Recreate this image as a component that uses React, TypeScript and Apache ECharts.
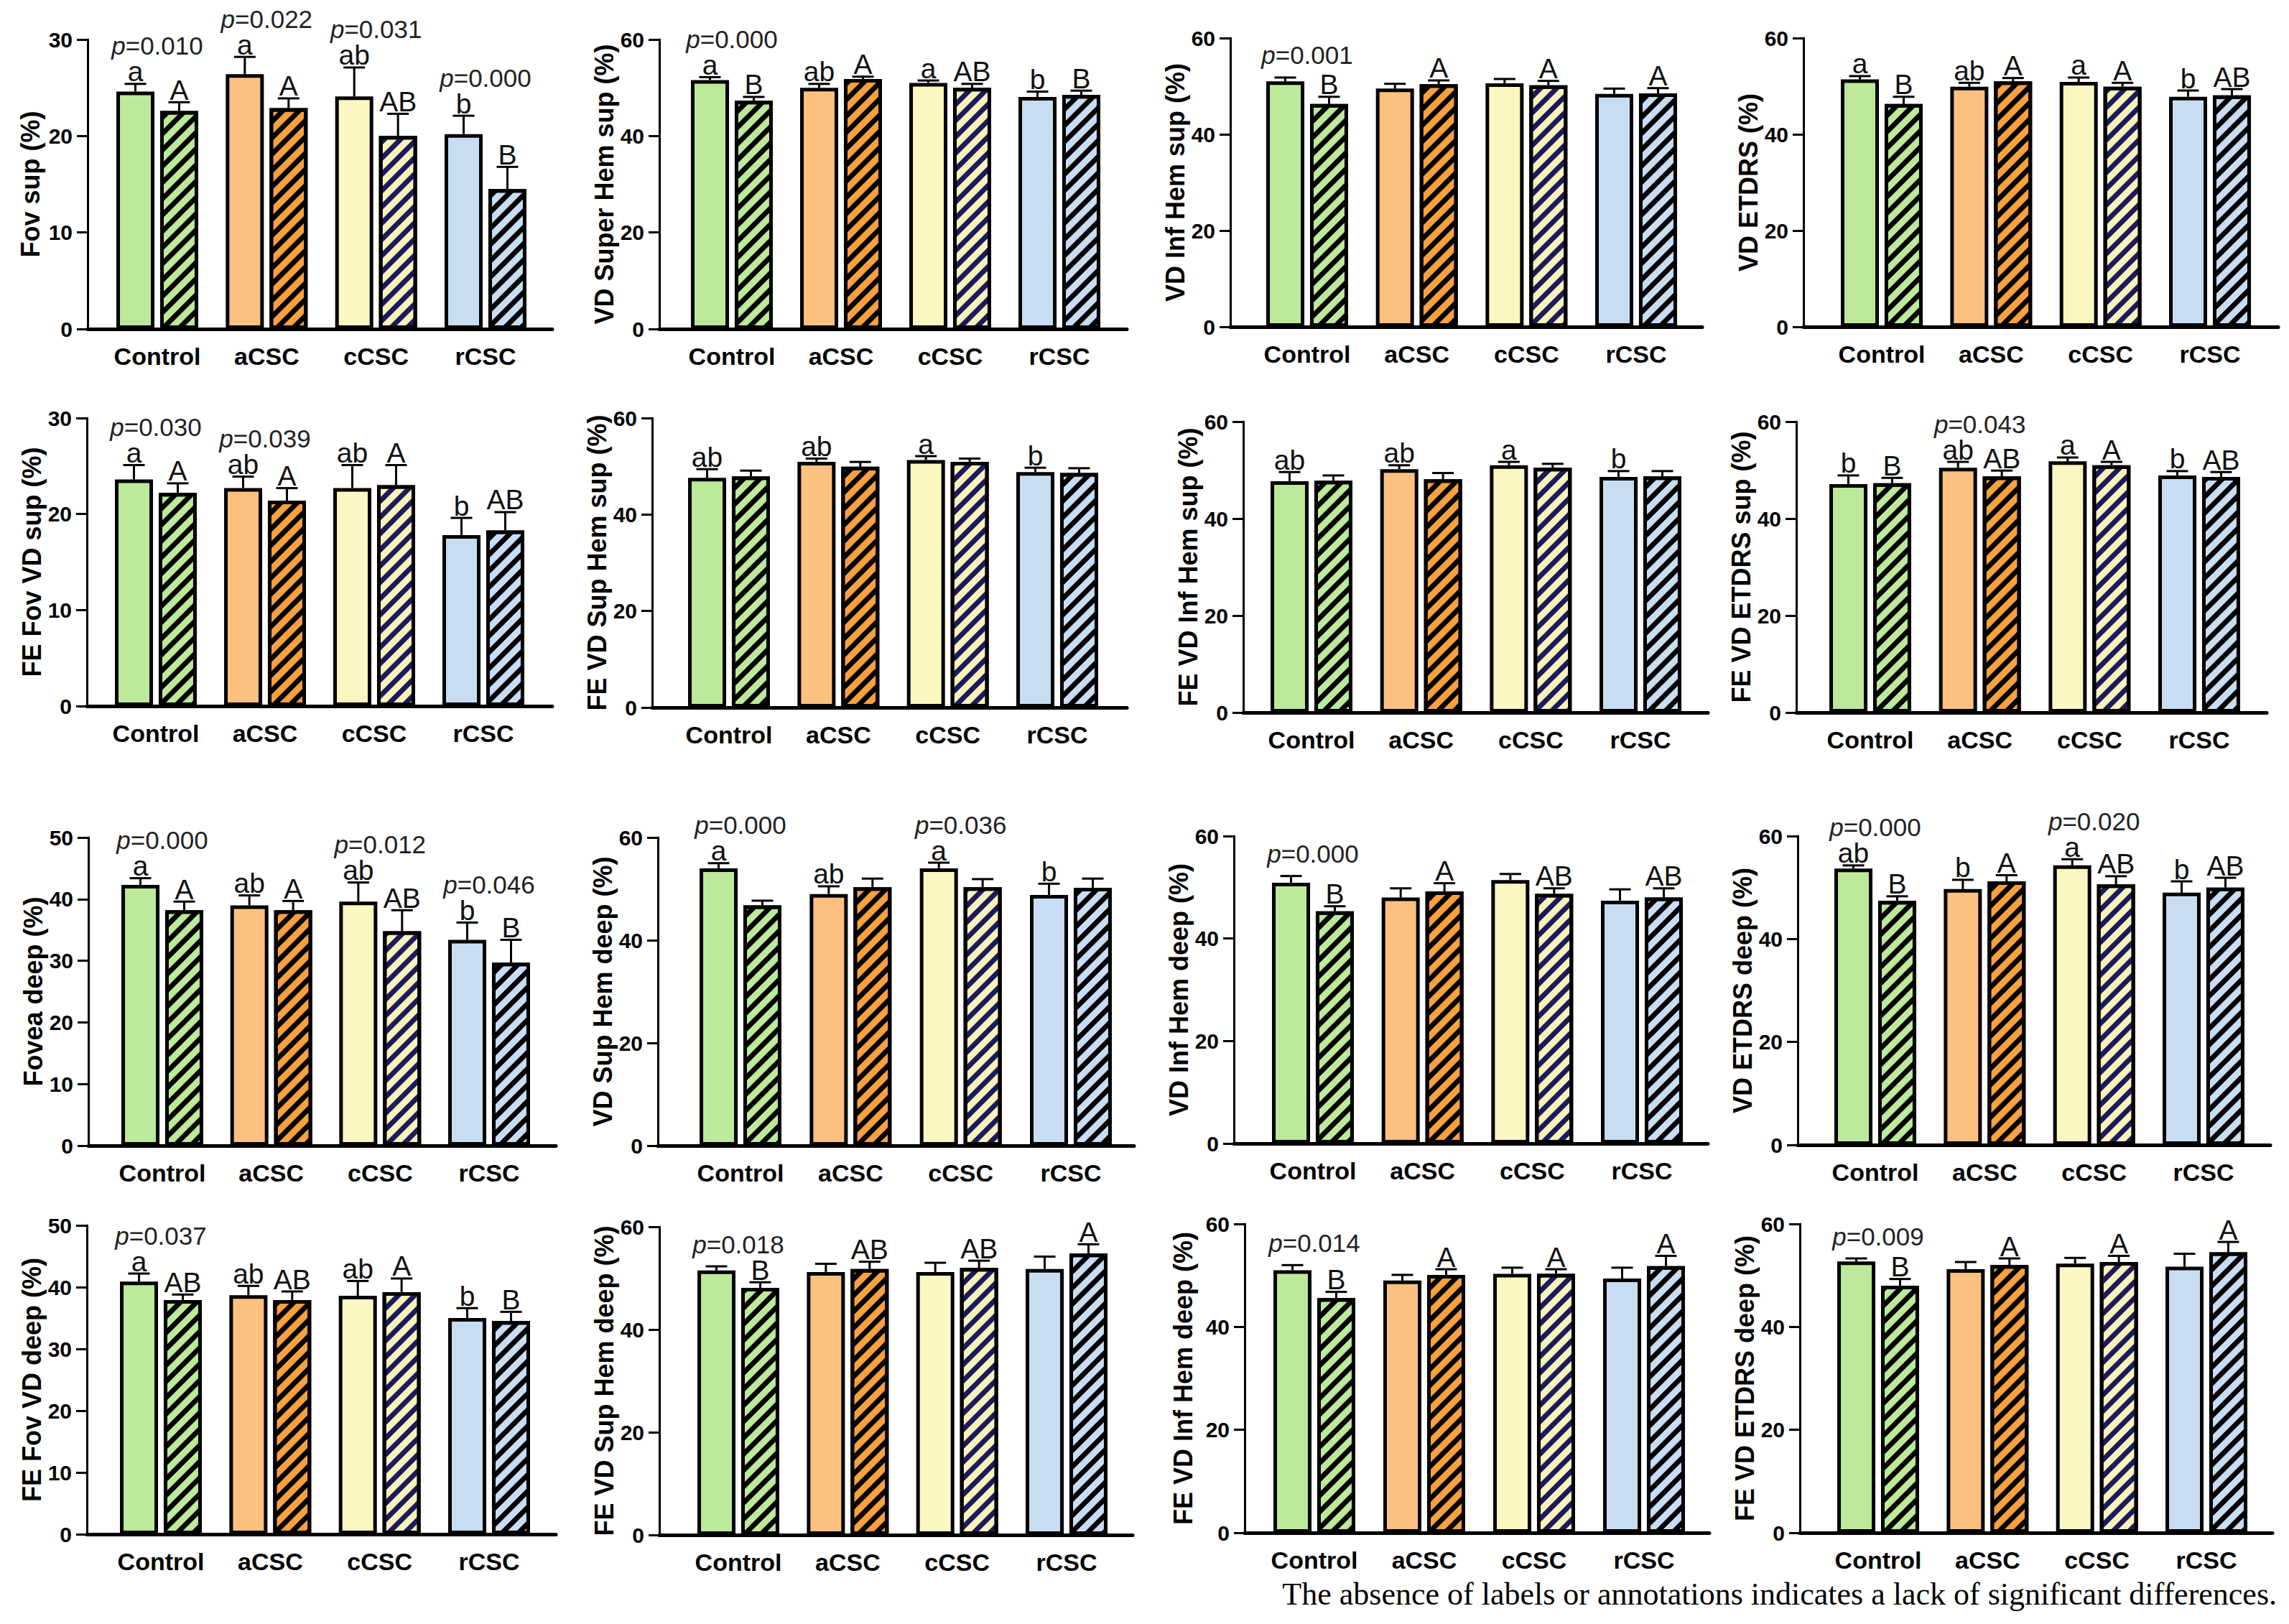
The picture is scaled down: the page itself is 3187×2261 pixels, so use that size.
import React, { useEffect, useRef } from "react";
import * as echarts from "echarts";

// ---------------- DATA ----------------
const categories = ["Control", "aCSC", "cCSC", "rCSC"];

// Panel 1: Fov sup (%)
const p1Solid = [24.6, 26.4, 24.1, 20.2];
const p1SolidErr = [0.8, 1.8, 3.0, 1.9];
const p1Hatch = [22.6, 22.9, 20.0, 14.5];
const p1HatchErr = [0.9, 1.0, 2.3, 2.3];
const p1SolidLet = ["a", "a", "ab", "b"];
const p1HatchLet = ["A", "A", "AB", "B"];
const p1P = ["0.010", "0.022", "0.031", "0.000"];

// Panel 2: VD Super Hem sup (%)
const p2Solid = [51.6, 50.0, 51.0, 48.1];
const p2SolidErr = [0.6, 0.8, 0.5, 1.1];
const p2Hatch = [47.3, 51.8, 50.0, 48.5];
const p2HatchErr = [0.8, 0.5, 0.8, 0.9];
const p2SolidLet = ["a", "ab", "a", "b"];
const p2HatchLet = ["B", "A", "AB", "B"];
const p2P = ["0.000", "", "", ""];

// Panel 3: VD Inf Hem sup (%)
const p3Solid = [51.0, 49.5, 50.6, 48.4];
const p3SolidErr = [0.8, 1.0, 0.9, 1.1];
const p3Hatch = [46.3, 50.4, 50.2, 48.5];
const p3HatchErr = [1.5, 0.8, 0.9, 1.1];
const p3SolidLet = ["", "", "", ""];
const p3HatchLet = ["B", "A", "A", "A"];
const p3P = ["0.001", "", "", ""];

// Panel 4: VD ETDRS (%)
const p4Solid = [51.4, 49.9, 50.9, 47.8];
const p4SolidErr = [0.7, 0.8, 0.9, 1.3];
const p4Hatch = [46.3, 51.0, 49.9, 48.1];
const p4HatchErr = [1.5, 0.7, 0.8, 1.3];
const p4SolidLet = ["a", "ab", "a", "b"];
const p4HatchLet = ["B", "A", "A", "AB"];
const p4P = ["", "", "", ""];

// Panel 5: FE Fov VD sup (%)
const p5Solid = [23.6, 22.7, 22.7, 17.8];
const p5SolidErr = [1.5, 1.2, 2.4, 1.8];
const p5Hatch = [22.2, 21.4, 23.0, 18.3];
const p5HatchErr = [1.0, 1.3, 2.1, 1.9];
const p5SolidLet = ["a", "ab", "ab", "b"];
const p5HatchLet = ["A", "A", "A", "AB"];
const p5P = ["0.030", "0.039", "", ""];

// Panel 6: FE VD Sup Hem sup (%)
const p6Solid = [47.6, 50.9, 51.3, 48.8];
const p6SolidErr = [1.8, 0.7, 0.8, 0.9];
const p6Hatch = [47.9, 49.9, 50.9, 48.6];
const p6HatchErr = [1.2, 1.0, 0.7, 1.0];
const p6SolidLet = ["ab", "ab", "a", "b"];
const p6HatchLet = ["", "", "", ""];
const p6P = ["", "", "", ""];

// Panel 7: FE VD Inf Hem sup (%)
const p7Solid = [47.7, 50.2, 51.0, 48.6];
const p7SolidErr = [1.9, 0.8, 0.7, 1.2];
const p7Hatch = [47.8, 48.1, 50.5, 48.7];
const p7HatchErr = [1.1, 1.3, 0.8, 1.1];
const p7SolidLet = ["ab", "ab", "a", "b"];
const p7HatchLet = ["", "", "", ""];
const p7P = ["", "", "", ""];

// Panel 8: FE VD ETDRS sup (%)
const p8Solid = [47.1, 50.5, 51.8, 48.9];
const p8SolidErr = [1.8, 1.2, 0.8, 0.9];
const p8Hatch = [47.3, 48.7, 51.0, 48.6];
const p8HatchErr = [1.1, 1.2, 0.7, 1.0];
const p8SolidLet = ["b", "ab", "a", "b"];
const p8HatchLet = ["B", "AB", "A", "AB"];
const p8P = ["", "0.043", "", ""];

// Panel 9: Fovea deep (%)
const p9Solid = [42.3, 39.0, 39.6, 33.4];
const p9SolidErr = [1.1, 1.6, 3.1, 2.8];
const p9Hatch = [38.2, 38.2, 34.8, 29.7];
const p9HatchErr = [1.4, 1.5, 3.4, 3.7];
const p9SolidLet = ["a", "ab", "ab", "b"];
const p9HatchLet = ["A", "A", "AB", "B"];
const p9P = ["0.000", "", "0.012", "0.046"];

// Panel 10: VD Sup Hem deep (%)
const p10Solid = [54.0, 49.0, 54.0, 48.8];
const p10SolidErr = [1.0, 1.5, 1.1, 2.2];
const p10Hatch = [46.8, 50.3, 50.3, 50.2];
const p10HatchErr = [0.9, 1.7, 1.6, 1.8];
const p10SolidLet = ["a", "ab", "a", "b"];
const p10HatchLet = ["", "", "", ""];
const p10P = ["0.000", "", "0.036", ""];

// Panel 11: VD Inf Hem deep (%)
const p11Solid = [50.9, 48.0, 51.4, 47.4];
const p11SolidErr = [1.3, 1.8, 1.2, 2.2];
const p11Hatch = [45.3, 49.2, 48.7, 48.0];
const p11HatchErr = [1.0, 1.6, 1.1, 1.8];
const p11SolidLet = ["", "", "", ""];
const p11HatchLet = ["B", "A", "AB", "AB"];
const p11P = ["0.000", "", "", ""];

// Panel 12: VD ETDRS deep (%)
const p12Solid = [53.7, 49.7, 54.3, 49.0];
const p12SolidErr = [0.6, 1.8, 1.2, 2.2];
const p12Hatch = [47.4, 51.2, 50.6, 50.0];
const p12HatchErr = [0.9, 1.2, 1.6, 1.9];
const p12SolidLet = ["ab", "b", "a", "b"];
const p12HatchLet = ["B", "A", "AB", "AB"];
const p12P = ["0.000", "", "0.020", ""];

// Panel 13: FE Fov VD deep (%)
const p13Solid = [40.9, 38.7, 38.6, 35.0];
const p13SolidErr = [1.3, 1.5, 2.4, 1.6];
const p13Hatch = [37.9, 37.9, 39.2, 34.5];
const p13HatchErr = [0.9, 1.4, 2.2, 1.5];
const p13SolidLet = ["a", "ab", "ab", "b"];
const p13HatchLet = ["AB", "AB", "A", "B"];
const p13P = ["0.037", "", "", ""];

// Panel 14: FE VD Sup Hem deep (%)
const p14Solid = [51.5, 51.2, 51.2, 51.8];
const p14SolidErr = [0.8, 1.6, 1.8, 2.4];
const p14Hatch = [48.1, 51.8, 52.0, 54.8];
const p14HatchErr = [1.1, 1.4, 1.4, 1.8];
const p14SolidLet = ["", "", "", ""];
const p14HatchLet = ["B", "AB", "AB", "A"];
const p14P = ["0.018", "", "", ""];

// Panel 15: FE VD Inf Hem deep (%)
const p15Solid = [51.0, 49.0, 50.3, 49.4];
const p15SolidErr = [1.0, 1.1, 1.2, 2.1];
const p15Hatch = [45.6, 50.1, 50.3, 51.8];
const p15HatchErr = [1.2, 1.1, 0.9, 2.0];
const p15SolidLet = ["", "", "", ""];
const p15HatchLet = ["B", "A", "A", "A"];
const p15P = ["0.014", "", "", ""];

// Panel 16: FE VD ETDRS deep (%)
const p16Solid = [52.7, 51.2, 52.3, 51.7];
const p16SolidErr = [0.6, 1.4, 1.1, 2.5];
const p16Hatch = [48.0, 52.0, 52.6, 54.5];
const p16HatchErr = [1.3, 1.3, 1.2, 2.0];
const p16SolidLet = ["", "", "", ""];
const p16HatchLet = ["B", "A", "A", "A"];
const p16P = ["0.009", "", "", ""];

const yNames = [
  "Fov sup (%)", "VD Super Hem sup (%)", "VD Inf Hem sup (%)", "VD ETDRS (%)",
  "FE Fov VD sup (%)", "FE VD Sup Hem sup (%)", "FE VD Inf Hem sup (%)", "FE VD ETDRS sup (%)",
  "Fovea deep (%)", "VD Sup Hem deep (%)", "VD Inf Hem deep (%)", "VD ETDRS deep (%)",
  "FE Fov VD deep (%)", "FE VD Sup Hem deep (%)", "FE VD Inf Hem deep (%)", "FE VD ETDRS deep (%)",
];
const yMaxes = [30, 60, 60, 60, 30, 60, 60, 60, 50, 60, 60, 60, 50, 60, 60, 60];
const yIntervals = [10, 20, 20, 20, 10, 20, 20, 20, 10, 20, 20, 20, 10, 20, 20, 20];

const footnote = "The absence of labels or annotations indicates a lack of significant differences.";

// ---------------- STYLE / LAYOUT ----------------
const solidColors = ["#bde99a", "#fdc17f", "#fbf6c2", "#c9ddf2"];
const hatchColors = ["#bde99a", "#f9a03f", "#f9f3bb", "#c9ddf2"];
const stripeColors = ["#000000", "#000000", "#1b1a5c", "#000000"];

// [axisX, firstGroupCenter, lastGroupCenter, axisEndX, topY, zeroY, nameGap]
const layout = [
  [122, 219, 676, 769, 55, 458, 62],
  [918, 1019, 1475, 1569, 55, 458, 54],
  [1713, 1820, 2278, 2370, 53, 455, 54],
  [2511, 2620, 3077, 3172, 53, 455, 41],
  [121, 217, 673, 769, 582, 983, 57],
  [908, 1015, 1472, 1569, 582, 985, 49],
  [1731, 1826, 2284, 2378, 587, 992, 59],
  [2501, 2604, 3062, 3156, 587, 992, 54],
  [123, 226, 681, 774, 1166, 1595, 49],
  [916, 1031, 1491, 1579, 1166, 1595, 45],
  [1718, 1828, 2286, 2378, 1164, 1592, 49],
  [2503, 2611, 3068, 3161, 1164, 1594, 43],
  [121, 224, 681, 774, 1706, 2136, 57],
  [918, 1028, 1485, 1577, 1708, 2137, 45],
  [1733, 1830, 2289, 2380, 1704, 2134, 68],
  [2506, 2615, 3072, 3164, 1704, 2134, 42],
];

const FONT = '"Liberation Sans", Arial, Helvetica, sans-serif';
const BAR_W = 53;
const GAP_FRAC = 0.15;
const OFF = (BAR_W + BAR_W * GAP_FRAC) / 2;
const LET_SIZE = 39;
const P_SIZE = 35;

const panels = [
  [p1Solid, p1SolidErr, p1Hatch, p1HatchErr, p1SolidLet, p1HatchLet, p1P],
  [p2Solid, p2SolidErr, p2Hatch, p2HatchErr, p2SolidLet, p2HatchLet, p2P],
  [p3Solid, p3SolidErr, p3Hatch, p3HatchErr, p3SolidLet, p3HatchLet, p3P],
  [p4Solid, p4SolidErr, p4Hatch, p4HatchErr, p4SolidLet, p4HatchLet, p4P],
  [p5Solid, p5SolidErr, p5Hatch, p5HatchErr, p5SolidLet, p5HatchLet, p5P],
  [p6Solid, p6SolidErr, p6Hatch, p6HatchErr, p6SolidLet, p6HatchLet, p6P],
  [p7Solid, p7SolidErr, p7Hatch, p7HatchErr, p7SolidLet, p7HatchLet, p7P],
  [p8Solid, p8SolidErr, p8Hatch, p8HatchErr, p8SolidLet, p8HatchLet, p8P],
  [p9Solid, p9SolidErr, p9Hatch, p9HatchErr, p9SolidLet, p9HatchLet, p9P],
  [p10Solid, p10SolidErr, p10Hatch, p10HatchErr, p10SolidLet, p10HatchLet, p10P],
  [p11Solid, p11SolidErr, p11Hatch, p11HatchErr, p11SolidLet, p11HatchLet, p11P],
  [p12Solid, p12SolidErr, p12Hatch, p12HatchErr, p12SolidLet, p12HatchLet, p12P],
  [p13Solid, p13SolidErr, p13Hatch, p13HatchErr, p13SolidLet, p13HatchLet, p13P],
  [p14Solid, p14SolidErr, p14Hatch, p14HatchErr, p14SolidLet, p14HatchLet, p14P],
  [p15Solid, p15SolidErr, p15Hatch, p15HatchErr, p15SolidLet, p15HatchLet, p15P],
  [p16Solid, p16SolidErr, p16Hatch, p16HatchErr, p16SolidLet, p16HatchLet, p16P],
] as any[];

function buildOption() {
  const grid: any[] = [];
  const xAxis: any[] = [];
  const yAxis: any[] = [];
  const series: any[] = [];

  panels.forEach((pd: any[], k: number) => {
    const [solid, sErr, hatch, hErr, sLet, hLet, pv] = pd;
    const [axisX, c0, c3, endX, topY, zeroY, nameGap] = layout[k];
    const band = (c3 - c0) / 3;
    const max = yMaxes[k];
    const interval = yIntervals[k];
    const outer = 2 * k;
    const inner = 2 * k + 1;

    grid.push({ left: axisX, top: topY, width: endX - axisX, height: zeroY - topY, containLabel: false });
    grid.push({ left: c0 - band / 2, top: topY, width: band * 4, height: zeroY - topY, containLabel: false });

    xAxis.push({
      gridIndex: outer, type: "value", min: 0, max: 1,
      axisLine: { show: true, onZero: false, lineStyle: { color: "#000", width: 5 } },
      axisTick: { show: false }, axisLabel: { show: false }, splitLine: { show: false },
    });
    xAxis.push({
      gridIndex: inner, type: "category", data: categories,
      axisLine: { show: false }, axisTick: { show: false }, splitLine: { show: false },
      axisLabel: { interval: 0, margin: 21, fontSize: 34, fontWeight: "bold", color: "#000", fontFamily: FONT },
    });

    yAxis.push({
      gridIndex: outer, type: "value", min: 0, max, interval,
      name: yNames[k], nameLocation: "middle", nameGap,
      nameTextStyle: { fontSize: 36, fontWeight: "bold", color: "#000", fontFamily: FONT },
      axisLine: { show: true, onZero: false, lineStyle: { color: "#000", width: 3 } },
      axisTick: { show: true, length: 15, lineStyle: { color: "#000", width: 3 } },
      axisLabel: { margin: 21, fontSize: 30, fontWeight: "bold", color: "#000", fontFamily: FONT },
      splitLine: { show: false },
    });
    yAxis.push({ gridIndex: inner, type: "value", min: 0, max, interval, show: false });

    series.push({
      type: "bar", xAxisIndex: inner, yAxisIndex: inner, barWidth: BAR_W, barGap: GAP_FRAC * 100 + "%",
      z: 2,
      data: solid.map((v: number, i: number) => ({
        value: v,
        itemStyle: { color: solidColors[i], borderColor: "#000", borderWidth: 5 },
      })),
    });
    series.push({
      type: "bar", xAxisIndex: inner, yAxisIndex: inner, barWidth: BAR_W, barGap: GAP_FRAC * 100 + "%",
      z: 2,
      data: hatch.map((v: number, i: number) => ({
        value: v,
        itemStyle: {
          color: hatchColors[i], borderColor: "#000", borderWidth: 5,
          decal: {
            symbol: "rect", symbolSize: 1, dashArrayX: [1, 0], dashArrayY: [7, 9],
            rotation: -Math.PI / 4, color: stripeColors[i],
          },
        },
      })),
    });

    series.push({
      type: "custom", xAxisIndex: inner, yAxisIndex: inner, z: 5, clip: false, silent: true,
      data: categories.map((c: string, i: number) => [i, solid[i], sErr[i], hatch[i], hErr[i]]),
      renderItem: (params: any, api: any) => {
        const i = api.value(0);
        const base = api.coord([i, 0]);
        const children: any[] = [];
        const specs = [
          { v: api.value(1), e: api.value(2), dx: -OFF, letter: sLet[i] },
          { v: api.value(3), e: api.value(4), dx: OFF, letter: hLet[i] },
        ];
        let solidCap = 0;
        specs.forEach((s, j) => {
          const top = api.coord([i, s.v]);
          const cap = api.coord([i, s.v + s.e]);
          const x = base[0] + s.dx;
          if (j === 0) solidCap = cap[1];
          children.push({ type: "line", shape: { x1: x, y1: top[1], x2: x, y2: cap[1] }, style: { stroke: "#000", lineWidth: 3 } });
          children.push({ type: "line", shape: { x1: x - 15, y1: cap[1], x2: x + 15, y2: cap[1] }, style: { stroke: "#000", lineWidth: 3 } });
          if (s.letter) {
            children.push({
              type: "text", x, y: cap[1] - 17,
              style: { text: s.letter, fill: "#111", fontSize: LET_SIZE, fontFamily: FONT, align: "center", verticalAlign: "middle" },
            });
          }
        });
        if (pv[i]) {
          const py = sLet[i] ? solidCap - 53 : solidCap - 31;
          children.push({
            type: "text", x: base[0], y: py,
            style: {
              text: "{i|p}=" + pv[i], fill: "#222", fontSize: P_SIZE, fontFamily: FONT,
              align: "center", verticalAlign: "middle",
              rich: { i: { fontStyle: "italic", fontSize: P_SIZE, fontFamily: FONT, fill: "#222" } },
            },
          });
        }
        return { type: "group", children };
      },
    });
  });

  return {
    animation: false,
    backgroundColor: "#ffffff",
    grid, xAxis, yAxis, series,
    graphic: [
      {
        type: "text", right: 17, top: 2197,
        style: { text: footnote, fill: "#000", fontSize: 44, fontFamily: '"Liberation Serif", "Times New Roman", serif' },
      },
    ],
  };
}

export default function App() {
  const ref = useRef<HTMLDivElement>(null);
  useEffect(() => {
    document.body.style.margin = "0";
    const chart = echarts.init(ref.current as HTMLDivElement, null, { renderer: "svg" });
    chart.setOption(buildOption() as any);
    return () => chart.dispose();
  }, []);
  return <div ref={ref} style={{ width: 3187, height: 2261, background: "#fff" }} />;
}
